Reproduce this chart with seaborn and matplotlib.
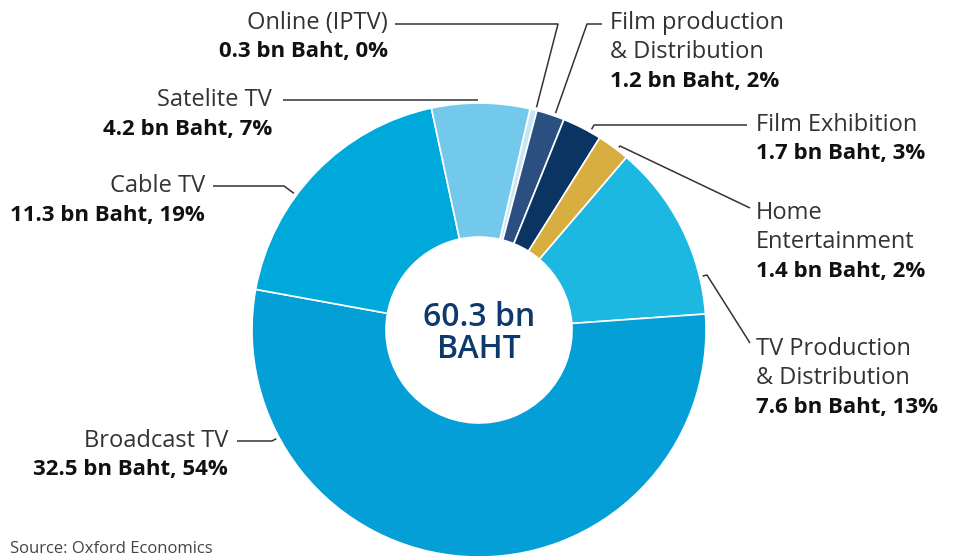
import numpy as np
import matplotlib
matplotlib.use("Agg")
import matplotlib.pyplot as plt
import seaborn as sns

# data
segments = ["Online (IPTV)", "Film production\n& Distribution", "Film Exhibition",
            "Home\nEntertainment", "TV Production\n& Distribution", "Broadcast TV",
            "Cable TV", "Satelite TV"]
values_bn = [0.3, 1.2, 1.7, 1.4, 7.6, 32.5, 11.3, 4.2]
shares_pct = [0, 2, 3, 2, 13, 54, 19, 7]
total_bn = 60.3
colors = ["#c6e6f5", "#2b4f80", "#0a3563", "#d9ae41", "#1cb8e2", "#049fd6", "#00a9dc", "#73c9ec"]

sns.set_theme(style="white")
plt.rcParams["font.family"] = ["Open Sans", "DejaVu Sans"]

W, H = 955, 556
fig = plt.figure(figsize=(W / 100, H / 100), dpi=100)
ax = fig.add_axes([0, 0, 1, 1])


def px(x, y):
    # picture pixel coords -> axes data coords
    return x, H - y


cx, cy = px(479, 330)
R_OUT, R_IN = 227, 93

wedges, _ = ax.pie(values_bn, colors=colors, startangle=77, counterclock=False,
                   radius=R_OUT, center=(cx, cy), frame=True,
                   wedgeprops=dict(width=R_OUT - R_IN, edgecolor="white", linewidth=1.2))
ax.set_xlim(0, W)
ax.set_ylim(0, H)
ax.set_aspect("equal")
ax.axis("off")

# label layout: (text x, text y of first line, ha, leader path: elbow, end)
layout = [
    (388, 23, "right", [(558, 24), (395, 24)]),
    (610, 23, "left", [(587, 24), (602, 24)]),
    (756, 125, "left", [(594, 125), (747, 125)]),
    (756, 213, "left", [(620, 146), (750, 208)]),
    (756, 349, "left", [(707, 275), (750, 343)]),
    (228, 441, "right", [(272, 441), (237, 441)]),
    (205, 186, "right", [(284, 186), (213, 186)]),
    (272, 100, "right", [(478, 100), (283, 100)]),
]

LINE = 29
for name, v, p, (tx, ty, ha, path) in zip(segments, values_bn, shares_pct, layout):
    ex, ey = px(*path[0])
    ang = np.arctan2(ey - cy, ex - cx)
    sx, sy = cx + (R_OUT + 3) * np.cos(ang), cy + (R_OUT + 3) * np.sin(ang)
    pts = [(sx, sy)] + [px(x, y) for x, y in path]
    xs, ys = zip(*pts)
    ax.plot(xs, ys, color="#333333", lw=1.1, solid_capstyle="butt")
    lines = name.split("\n")
    for i, ln in enumerate(lines):
        ax.text(*px(tx, ty + i * LINE), ln, ha=ha, va="center", fontsize=17,
                fontweight="normal", color="#333333")
    ax.text(*px(tx, ty + len(lines) * LINE), f"{v} bn Baht, {p}%", ha=ha, va="center",
            fontsize=16, fontweight="bold", color="#111111")

ax.text(*px(479, 318), f"{total_bn} bn", ha="center", va="center", fontsize=23,
        fontweight="semibold", color="#0d3a6b")
ax.text(*px(479, 349), "BAHT", ha="center", va="center", fontsize=23,
        fontweight="semibold", color="#0d3a6b")

ax.text(*px(10, 549), "Source: Oxford Economics", ha="left", va="center", fontsize=12,
        color="#444444")

fig.savefig("out.png", dpi=100)
